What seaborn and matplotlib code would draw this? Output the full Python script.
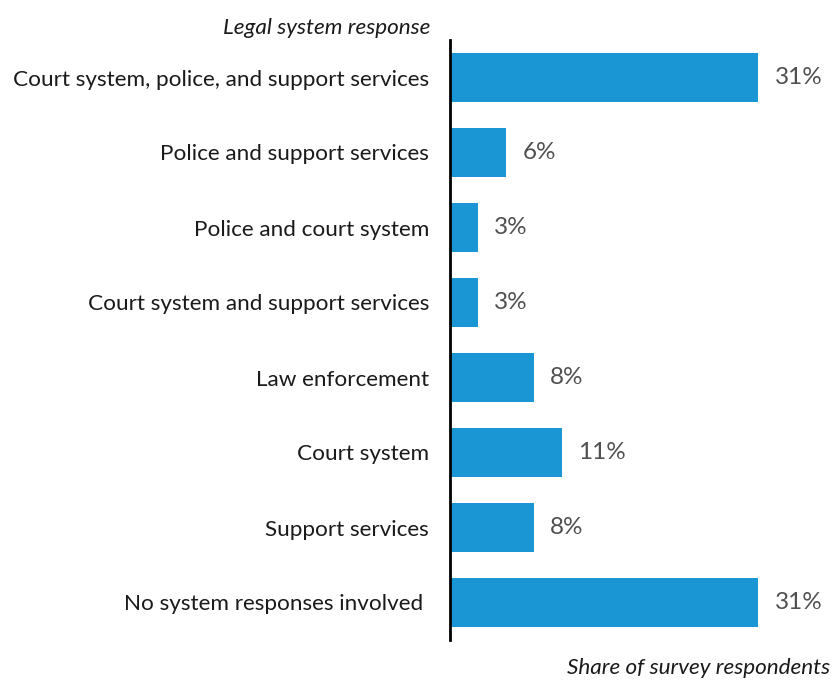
import matplotlib
matplotlib.use("Agg")
import matplotlib.pyplot as plt
import seaborn as sns
import pandas as pd

categories = [
    "Court system, police, and support services",
    "Police and support services",
    "Police and court system",
    "Court system and support services",
    "Law enforcement",
    "Court system",
    "Support services",
    "No system responses involved ",
]
values = [30.6, 5.6, 2.8, 2.8, 8.3, 11.1, 8.3, 30.6]
value_labels = ["31%", "6%", "3%", "3%", "8%", "11%", "8%", "31%"]

sns.set_theme(style="white")
plt.rcParams["font.family"] = ["Lato", "DejaVu Sans"]

df = pd.DataFrame({"category": categories, "value": values})

fig = plt.figure(figsize=(8.32, 6.80), dpi=100)
ax = fig.add_axes([450/832, 1-640/680, 378/832, 600/680])

sns.barplot(data=df, y="category", x="value", orient="h", color="#1996d3",
            saturation=1, width=0.66, linewidth=0, ax=ax)

ax.set_xlim(0, 37.5)
ax.set_ylim(len(categories) - 0.5, -0.5)
ax.set_xticks([])
ax.set_xlabel("")
ax.set_ylabel("")
for s in ["top", "right", "bottom"]:
    ax.spines[s].set_visible(False)
ax.spines["left"].set_color("black")
ax.spines["left"].set_linewidth(2)
ax.tick_params(axis="y", length=0, pad=15, labelsize=16.2, labelcolor="#1a1a1a")

for i, (v, lab) in enumerate(zip(values, value_labels)):
    ax.annotate(lab, xy=(v, i), xytext=(16, 0), textcoords="offset pixels",
                ha="left", va="center", fontsize=17.5, color="#505050")

fig.text(430/832, 1-28/680, "Legal system response", ha="right", va="center",
         fontsize=16.2, style="italic", color="#1a1a1a")
fig.text(830/832, 1-668/680, "Share of survey respondents", ha="right", va="center",
         fontsize=16.2, style="italic", color="#1a1a1a")

fig.savefig("out.png", dpi=100)
